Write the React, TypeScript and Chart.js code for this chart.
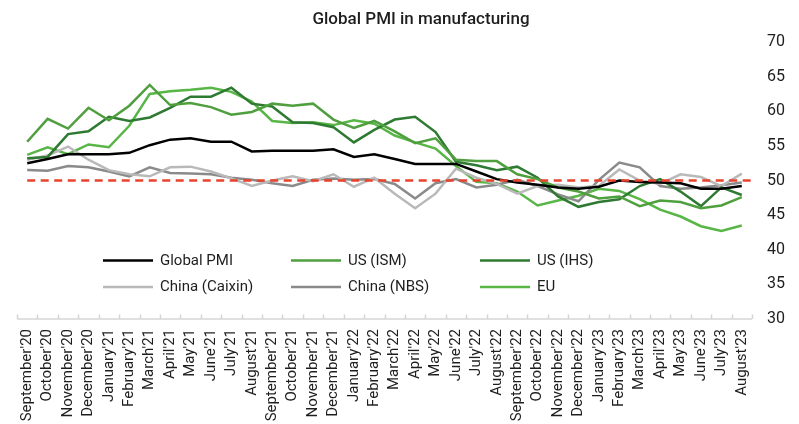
import React, { useEffect, useRef } from "react";
import { Chart, registerables } from "chart.js";

Chart.register(...registerables);

const TITLE = "Global PMI in manufacturing";

const months = [
  "September'20", "October'20", "November'20", "December'20",
  "January'21", "February'21", "March'21", "April'21", "May'21", "June'21",
  "July'21", "August'21", "September'21", "October'21", "November'21", "December'21",
  "January'22", "February'22", "March'22", "April'22", "May'22", "June'22",
  "July'22", "August'22", "September'22", "October'22", "November'22", "December'22",
  "January'23", "February'23", "March'23", "April'23", "May'23", "June'23",
  "July'23", "August'23",
];

const globalPmi = [52.5, 53.1, 53.8, 53.8, 53.8, 54.0, 55.1, 55.9, 56.1, 55.6, 55.6, 54.2,
  54.3, 54.3, 54.3, 54.5, 53.4, 53.8, 53.1, 52.4, 52.4, 52.4, 51.3, 50.2,
  49.7, 49.4, 49.0, 48.8, 49.1, 50.0, 49.8, 49.7, 49.6, 48.8, 48.8, 49.2];

const usIsm = [55.6, 58.9, 57.5, 60.5, 58.7, 60.8, 63.8, 60.9, 61.2, 60.6, 59.5, 59.9,
  61.1, 60.8, 61.1, 58.8, 57.6, 58.6, 57.1, 55.4, 56.1, 53.0, 52.8, 52.8,
  50.9, 50.2, 49.0, 48.4, 47.4, 47.7, 46.3, 47.1, 46.9, 46.0, 46.4, 47.6];

const usIhs = [53.2, 53.4, 56.7, 57.1, 59.2, 58.6, 59.1, 60.5, 62.1, 62.1, 63.4, 61.1,
  60.7, 58.4, 58.3, 57.7, 55.5, 57.3, 58.8, 59.2, 57.0, 52.7, 52.2, 51.5,
  52.0, 50.4, 47.7, 46.2, 46.9, 47.3, 49.2, 50.2, 48.4, 46.3, 49.0, 47.9];

const chinaCaixin = [53.0, 53.6, 54.9, 53.0, 51.5, 50.9, 50.6, 51.9, 52.0, 51.3, 50.3, 49.2,
  50.0, 50.6, 49.9, 50.9, 49.1, 50.4, 48.1, 46.0, 48.1, 51.7, 50.4, 49.5,
  48.1, 49.2, 49.4, 49.0, 49.2, 51.6, 50.0, 49.5, 50.9, 50.5, 49.2, 51.0];

const chinaNbs = [51.5, 51.4, 52.1, 51.9, 51.3, 50.6, 51.9, 51.1, 51.0, 50.9, 50.4, 50.1,
  49.6, 49.2, 50.1, 50.3, 50.1, 50.2, 49.5, 47.4, 49.6, 50.2, 49.0, 49.4,
  50.1, 49.2, 48.0, 47.0, 50.1, 52.6, 51.9, 49.2, 48.8, 49.0, 49.3, 49.7];

const eu = [53.7, 54.8, 53.8, 55.2, 54.8, 57.9, 62.5, 62.9, 63.1, 63.4, 62.8, 61.4,
  58.6, 58.3, 58.4, 58.0, 58.7, 58.2, 56.5, 55.5, 54.6, 52.1, 49.8, 49.6,
  48.4, 46.4, 47.1, 47.8, 48.8, 48.5, 47.3, 45.8, 44.8, 43.4, 42.7, 43.5];

const THRESHOLD = 50;
const Y_MIN = 30;
const Y_MAX = 70;
const Y_STEP = 5;

const FONT = "Roboto, 'DejaVu Sans', sans-serif";
const TEXT = "#1e1e1e";

const seriesDefs = [
  { label: "Global PMI", data: globalPmi, color: "#000000" },
  { label: "US (ISM)", data: usIsm, color: "#4f9f3e" },
  { label: "US (IHS)", data: usIhs, color: "#2f7a32" },
  { label: "China (Caixin)", data: chinaCaixin, color: "#b9b9b9" },
  { label: "China (NBS)", data: chinaNbs, color: "#8a8a8a" },
  { label: "EU", data: eu, color: "#58b646" },
];

const decorPlugin = {
  id: "decor",
  afterDatasetsDraw(chart: any) {
    const { ctx, chartArea, scales } = chart;
    const x = scales.x;
    const y = scales.y;
    // threshold dashed line
    const yy = y.getPixelForValue(THRESHOLD);
    ctx.save();
    ctx.strokeStyle = "#e8432d";
    ctx.lineWidth = 2.5;
    ctx.setLineDash([8, 5.5]);
    ctx.beginPath();
    ctx.moveTo(x.getPixelForValue(0), yy);
    ctx.lineTo(chartArea.right, yy);
    ctx.stroke();
    ctx.restore();
  },
  afterDraw(chart: any) {
    const { ctx, chartArea, scales } = chart;
    const x = scales.x;
    const b = chartArea.bottom;
    ctx.save();
    // axis line and inside ticks
    ctx.strokeStyle = "#d6d6d6";
    ctx.lineWidth = 1.5;
    ctx.beginPath();
    ctx.moveTo(chartArea.left, b);
    ctx.lineTo(chartArea.right, b);
    for (let i = 0; i <= months.length; i++) {
      const px = Math.round(x.getPixelForValue(i - 0.5)) + 0.5;
      ctx.moveTo(px, b);
      ctx.lineTo(px, b - 4.5);
    }
    ctx.stroke();

    // title
    ctx.fillStyle = TEXT;
    ctx.font = `500 17px ${FONT}`;
    ctx.textAlign = "center";
    ctx.textBaseline = "alphabetic";
    ctx.fillText(TITLE, 421, 24);

    // legend (2 rows x 3 columns)
    const colX = [103, 291, 480];
    const rowY = [260.5, 287];
    const lineLen = 50;
    ctx.font = `15px ${FONT}`;
    ctx.textAlign = "left";
    ctx.textBaseline = "middle";
    chart.data.datasets.forEach((ds: any, i: number) => {
      const cx = colX[i % 3];
      const cy = rowY[Math.floor(i / 3)];
      ctx.strokeStyle = ds.borderColor;
      ctx.lineWidth = 2.5;
      ctx.setLineDash([]);
      ctx.beginPath();
      ctx.moveTo(cx, cy);
      ctx.lineTo(cx + lineLen, cy);
      ctx.stroke();
      ctx.fillStyle = TEXT;
      ctx.fillText(ds.label, cx + lineLen + 7, cy + 0.5);
    });
    ctx.restore();
  },
};

export default function App() {
  const ref = useRef<HTMLCanvasElement | null>(null);

  useEffect(() => {
    if (!ref.current) return;
    const chart = new Chart(ref.current, {
      type: "line",
      data: {
        labels: months,
        datasets: seriesDefs.map((s) => ({
          label: s.label,
          data: s.data,
          borderColor: s.color,
          backgroundColor: s.color,
          borderWidth: 2.5,
          pointRadius: 0,
          tension: 0,
          fill: false,
        })),
      },
      options: {
        animation: false,
        responsive: false,
        layout: { padding: { top: 42, left: 17, right: 0, bottom: 0 } },
        plugins: {
          legend: { display: false },
          title: { display: false },
          tooltip: { enabled: false },
        },
        scales: {
          x: {
            type: "category",
            offset: true,
            grid: { display: false, drawTicks: false, offset: true },
            border: { display: false },
            ticks: {
              autoSkip: false,
              maxRotation: 90,
              minRotation: 90,
              padding: 10,
              color: TEXT,
              font: { family: FONT, size: 15 },
            },
            afterFit(scale: any) {
              scale.height = 424 - 319;
            },
          },
          y: {
            position: "right",
            min: Y_MIN,
            max: Y_MAX,
            grid: { display: false, drawTicks: false },
            border: { display: false },
            ticks: {
              stepSize: Y_STEP,
              padding: 15,
              color: TEXT,
              font: { family: FONT, size: 16 },
            },
            afterFit(scale: any) {
              scale.width = 799 - 752;
            },
          },
        },
      },
      plugins: [decorPlugin],
    });
    return () => chart.destroy();
  }, []);

  return (
    <div style={{ position: "fixed", left: 0, top: 0, width: 799, height: 424, background: "#fff" }}>
      <canvas ref={ref} width={799} height={424} />
    </div>
  );
}
